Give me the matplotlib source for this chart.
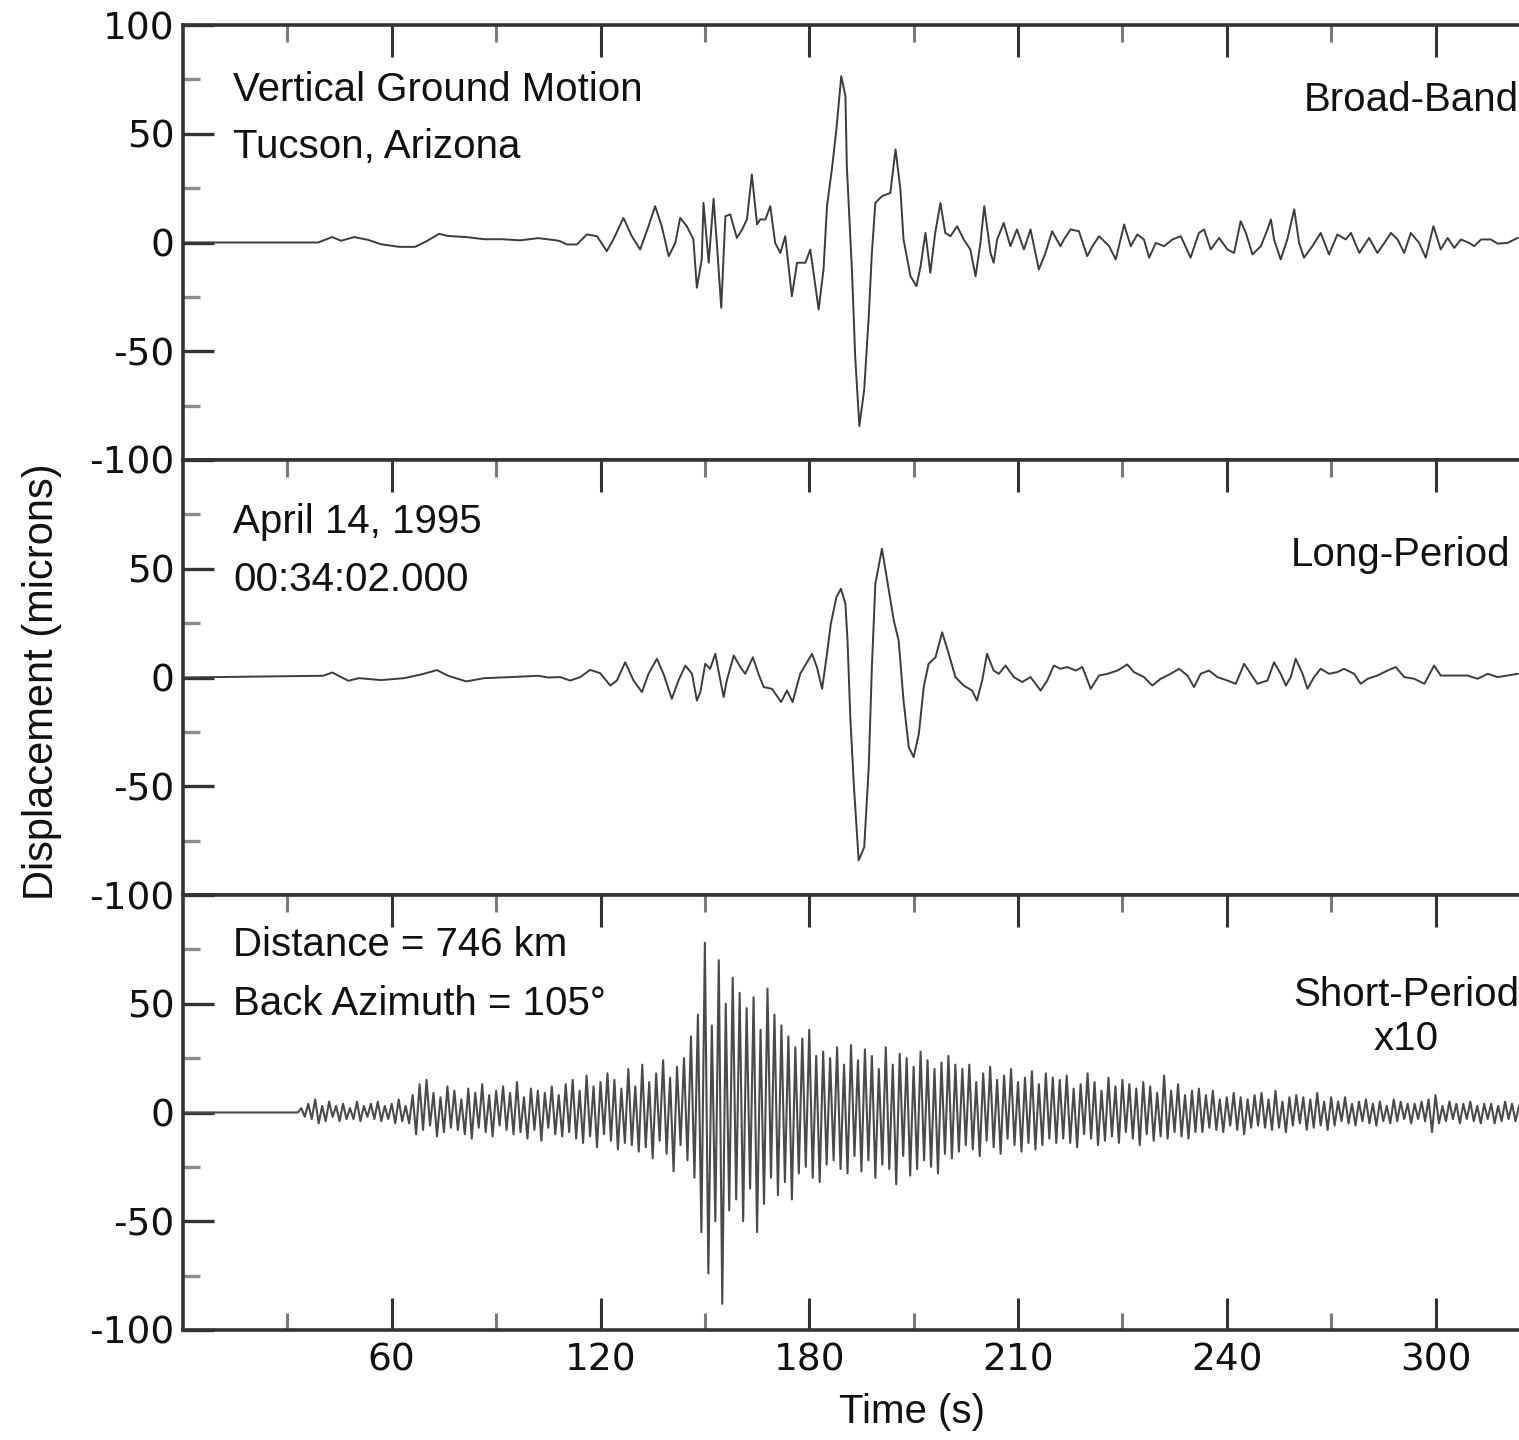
"""
Three-component seismogram (broad-band, long-period, short-period)
recorded at Tucson, Arizona - stacked panels sharing one time axis.
"""

import matplotlib

matplotlib.use("Agg")
import matplotlib.pyplot as plt
import numpy as np

# ---- data (time in s, displacement in microns)
BB_TIME = [
    0, 38.8, 42.9, 45.4, 49.2, 53.2, 56.9, 62.1, 66.7, 69.9, 73.6, 76.2, 81.4, 86.6,
    91.7, 96.9, 102.1, 107.3,
    108.4, 110.3, 113.2, 116.1, 119.0, 121.8, 123.7, 126.6, 129.0, 131.4, 133.8, 135.7,
    137.6, 139.6, 141.5, 142.9, 144.8, 146.7, 147.7, 149.1, 149.6, 151.1, 152.5, 153.5,
    154.7, 155.9, 157.3, 159.2, 160.7, 162.1, 163.5, 165.0, 165.9, 167.4, 168.8, 170.2,
    171.7, 173.1, 175.0, 176.5, 178.9, 180.3, 182.7, 184.1, 185.1, 186.5, 187.8, 189.2,
    190.4, 190.8, 192.3, 193.2, 194.4, 195.8, 197.1, 198.0, 199.0, 200.9, 203.3, 204.8,
    206.2, 207.1, 209.1, 210.8, 212.0, 213.4, 214.8, 216.2, 217.7, 219.1, 220.6, 222.5,
    224.4, 226.3, 227.8, 229.2, 230.3, 232.1, 233.0, 234.0, 235.9, 237.8, 239.7, 241.7,
    243.6, 246.0, 247.9, 249.8, 252.2,
    253.2, 255.1, 257.5, 259.9, 261.4, 263.3, 266.2, 268.1, 270.5, 272.4, 274.3, 276.2,
    277.7, 279.6, 282.0, 284.4, 286.8, 289.6, 292.0, 293.5, 295.4, 297.8, 300.2, 302.1,
    304.0, 305.5, 307.4, 309.8, 311.7, 312.7, 313.6, 315.5, 317.4, 319.4, 320.8, 322.2,
    324.6, 327.0, 329.4, 331.8, 334.2, 335.7, 338.1, 340.9, 343.3, 345.3, 347.2, 349.1,
    351.0, 352.9, 355.3, 357.2, 359.4, 361.5, 363.5, 365.4, 367.3, 369.7, 371.1, 373.1,
    375.9, 377.8, 380.7, 383.6,
]
BB_DISP = [
    0, 0, 2.5, 0.8, 2.5, 1.2, -0.8, -2, -2, 0.5, 4, 3, 2.5, 1.5,
    1.5, 1, 2, 1,
    0.6, -0.9, -0.9, 3.7, 2.9, -4.0, 1.4, 11.3, 2.9, -3.2, 7.5, 16.7,
    7.5, -6.3, -0.2, 11.3, 7.5, 1.4, -20.8, -7.8, 18.2, -9.3, 20.1, -1.7,
    -30.0, 12.1, 12.9, 2.1, 6.0, 10.6, 31.3, 8.3, 10.6, 10.6, 16.7, -0.2,
    -4.8, 2.9, -24.7, -9.3, -9.3, -3.2, -30.8, -12.4, 16.7, 33.6, 52.0, 76.5,
    67.3, 35.1, -13.9, -52.3, -84.4, -67.6, -33.9, -4.8, 18.2, 21.3, 22.8, 42.8,
    24.4, 1.4, -15.5, -20.1, -10.9, 4.4, -13.9, 4.4, 18.2, 4.4, 2.9, 7.5,
    1.4, -3.2, -15.5, -0.2, 16.7, -4.8, -9.3, 1.4, 9.0, -1.7, 6.0, -3.2,
    6.0, -12.4, -4.8, 5.2, -1.7,
    1.4, 6.0, 5.2, -6.3, -1.7, 2.9, -1.7, -7.8, 8.3, -1.7, 3.7, 1.4,
    -7.0, -0.2, -1.7, 1.4, 2.9, -7.0, 4.4, 6.0, -3.2, 2.1, -3.2, -4.8,
    9.8, 4.4, -5.5, -1.7, 6.0, 10.6, 1.4, -7.8, 1.4, 15.2, -0.2, -7.0,
    -1.7, 4.4, -5.5, 3.7, 1.4, 4.4, -4.8, 2.1, -4.8, -0.2, 4.4, 1.4,
    -4.8, 4.4, -0.2, -7.0, 7.5, -3.2, 2.1, -2.5, 1.4, -0.2, -1.7, 1.4,
    1.4, -0.5, -0.2, 2.1,
]

LP_TIME = [
    0, 40.3, 42.9, 47.5, 50.6, 56.9, 63.6, 68.7, 73.0, 76.2, 81.4, 86.6, 95.8, 102.1, 105.0,
    108.4, 111.3, 114.2, 117.0, 119.9, 122.8, 124.7, 127.1, 129.5, 131.9, 133.8, 136.2,
    138.1, 140.5, 142.4, 144.4, 146.3, 147.7, 148.7, 150.1, 151.5, 153.0, 153.9, 155.4,
    156.3, 158.3, 160.2, 161.6, 163.8, 165.4, 166.9, 169.3, 171.9, 173.6, 175.2, 177.4,
    180.8, 182.2, 183.7, 185.1, 186.2, 187.8, 189.1, 190.4, 191.0, 191.8, 192.8, 194.2,
    195.8, 197.1, 198.0, 199.0, 200.9, 202.4, 204.3, 205.7, 207.1, 208.6, 210.0, 211.5,
    212.9, 214.3, 216.3, 218.2, 220.1, 222.0, 224.4, 226.8, 228.2, 229.7, 231.1, 233.0,
    234.5, 236.4, 238.8, 241.2, 243.6, 246.5, 248.4, 250.3, 252.2,
    254.2, 256.6, 258.5, 260.9, 263.3, 265.7, 268.6, 271.4, 273.3, 276.2, 278.6, 281.0,
    283.9, 286.3, 288.7, 290.6, 292.5, 294.9, 297.3, 300.2, 302.6, 305.0, 306.9, 308.8,
    311.7, 313.6, 315.5, 317.0, 318.4, 319.8, 321.8, 323.2, 325.1, 327.0, 329.4, 331.8,
    333.7, 336.6, 338.5, 340.5, 343.3, 346.2, 348.6, 351.0, 353.9, 356.8, 359.6, 361.5,
    365.4, 369.2, 372.1, 375.0, 377.8, 380.7, 383.6,
]
LP_DISP = [
    0, 0.8, 2.3, -1.5, -0.3, -1.2, -0.3, 1.5, 3.4, 0.8, -1.8, -0.3, 0.3, 0.8, 0,
    0.2, -1.4, 0.2, 3.5, 2.0, -3.7, -1.4, 7.0, -1.4, -6.7, 1.7, 8.6,
    1.7, -9.8, -1.4, 5.5, 1.7, -10.6, -6.7, 6.3, 4.0, 10.9, 3.2, -9.0,
    -1.4, 10.1, 4.8, 1.7, 9.3, 1.7, -4.4, -5.2, -11.3, -6.0, -11.3, 1.7,
    10.9, 4.8, -5.2, 10.9, 24.7, 36.9, 40.8, 33.9, 17.0, -18.2, -48.9, -84.1,
    -78.0, -41.2, 4.8, 43.1, 59.2, 44.6, 26.2, 17.0, -10.6, -32.0, -36.6, -25.9,
    -4.4, 6.3, 9.3, 20.8, 10.9, 0.2, -3.7, -6.0, -10.6, -1.4, 10.9, 3.2,
    1.7, 5.5, 0.2, -2.1, 0.2, -6.0, -1.4, 5.5, 4.0,
    4.8, 3.2, 4.8, -5.2, 0.9, 1.7, 3.2, 6.0, 2.5, 0.2, -3.7, -0.6,
    1.7, 4.0, 0.9, -4.4, 1.7, 3.2, 0.2, -1.4, -2.9, 6.3, 1.7, -2.9,
    -1.4, 7.0, 1.7, -3.7, 0.2, 8.6, 1.7, -5.2, 0.2, 4.0, 1.7, 2.5,
    4.0, 1.7, -2.9, -0.6, 0.9, 3.2, 4.8, 0.2, -0.6, -2.9, 5.5, 0.9,
    0.9, 0.9, -0.6, 1.7, 0.2, 0.9, 1.7,
]

# short-period trace (already x10): one swing per second from 34 s onward,
# flat before that
SP_QUIET_END = 33.0
SP_START = 34.0
SP_STEP = 1.0
SP_DISP = [
    2, -2, 4, -3, 6, -5, 3, -4, 5, -2, 3, -4, 4, -3, 2, -3, 5, -4, 3, -2,
    4, -3, 5, -4, 3, -3, 4, -5, 6, -4, 3, -5,
    8, -10, 13, -8, 15, -6, 9, -11, 7, -9, 12, -7, 10, -8, 6, -10, 11, -12, 9, -7,
    13, -9, 8, -11, 10, -6, 12, -8, 9, -10, 14, -9, 7, -12, 11, -8, 10, -13, 9, -7,
    12, -10, 8,
    -11, 13, -9, 15, -12, 10, -14, 17, -11, 12, -16, 14, -10, 18, -13, 15, -17, 11, -14, 20,
    -15, 12, -18, 22, -16, 14, -21, 18, -13, 24, -19, 16, -27, 21, -15, 25, -22,
    35, -30, 45, -55, 78, -74, 40, -50, 70, -88, 50, -45, 62, -40, 55, -50, 48, -35, 53, -55,
    38, -42, 57, -30, 45, -38, 40, -32, 35, -40, 30, -28, 34, -25, 38, -30, 26, -32, 28, -24,
    25, -22, 30, -26, 22, -28, 31, -20, 24, -27, 29, -22, 26, -30, 20, -24, 30, -26, 22, -33,
    27, -20, 25, -29, 21, -26, 28, -22, 24, -25, 20, -28, 23, -19, 26, -21, 22,
    -18, 20, -15, 22, -17, 14, -20, 18, -13, 21, -16, 15, -19, 17, -12, 20, -15, 14, -18, 16,
    -14, 19, -17, 13, -15, 18, -12, 16, -14,
    15, -12, 17, -14, 11, -16, 13, -10, 18, -12, 14, -15, 10, -13, 16, -11, 12, -14, 15, -9,
    13, -12, 11, -15, 14, -10, 12, -13, 9, -11, 17, -12, 10, -9, 13, -11, 8, -12, 10, -9, 11,
    -9, 8, -7, 10, -8, 6, -9, 7, -6, 9, -8, 7, -10, 6, -7, 8, -6, 9, -7, 6,
    -8, 10, -7, 5, -9, 7, -6, 8, -5, 7, -8, 6, -7, 9, -6, 5, -8, 7,
    -6, 5, -4, 7, -5, 4, -6, 5, -4, 6, -5, 4, -6, 5, -4, 3, -5, 6, -4, 5,
    -3, 4, -5, 4, -3, 5, -4, 6, -9, 8, -5, 3, -4, 5, -3, 4, -5, 4, -3, 5,
    -4, 3, -5, 4, -3, 4, -5, 3, -4, 5, -3, 4, -4, 3,
]

X_MAX = 384
X_TICKS = [60, 120, 180, 240, 300, 360]
X_TICK_LABELS = ["60", "120", "180", "210", "240", "300"]
X_MINOR = [30, 90, 150, 210, 270, 330]
Y_TICKS = [-100, -50, 0, 50, 100]
Y_MINOR = [-75, -25, 25, 75]

LEFT_NOTES = [
    ("Vertical Ground Motion", "Tucson, Arizona"),
    ("April 14, 1995", "00:34:02.000"),
    ("Distance = 746 km", "Back Azimuth = 105\u00b0"),
]
RIGHT_NOTES = ["Broad-Band", "Long-Period", "Short-Period\nx10"]

INK = "#333333"
TRACE = "#3c3c3c"
TEXT = "#111111"
TEXT_FONT = ["Liberation Sans", "DejaVu Sans"]
FS = 29

W, H = 1519, 1440
fig = plt.figure(figsize=(W / 100, H / 100), dpi=100)

left = 183 / W
width = 1 - left
panel_h = 435 / H
tops = [25, 460, 895]

sp_time = [0.0, SP_QUIET_END] + list(SP_START + SP_STEP * np.arange(len(SP_DISP)))
sp_disp = [0.0, 0.0] + SP_DISP
series = [(BB_TIME, BB_DISP, 1.4, TRACE), (LP_TIME, LP_DISP, 1.4, TRACE),
          (sp_time, sp_disp, 1.5, "#4a4a4a")]

axes = []
for i, top in enumerate(tops):
    ax = fig.add_axes([left, 1 - (top + 435) / H, width, panel_h])
    t, d, lw, col = series[i]
    ax.plot(t, d, color=col, lw=lw)
    ax.set_xlim(0, X_MAX)
    ax.set_ylim(-100, 100)

    ax.spines["right"].set_visible(False)
    for s in ("left", "top", "bottom"):
        ax.spines[s].set_linewidth(2.6)
        ax.spines[s].set_color(INK)

    ax.set_yticks(Y_TICKS)
    ax.set_yticks(Y_MINOR, minor=True)
    ylabels = ["-100", "-50", "0", "50", "100" if i == 0 else ""]
    ax.set_yticklabels(ylabels, fontsize=27, family="DejaVu Sans")
    ax.set_xticks(X_TICKS)
    ax.set_xticks(X_MINOR, minor=True)
    if i == 2:
        ax.set_xticklabels(X_TICK_LABELS, fontsize=27, family="DejaVu Sans")
    else:
        ax.set_xticklabels([])

    ax.tick_params(axis="y", which="major", direction="in", length=22, width=2.4,
                   color=INK, pad=6, labelcolor=TEXT)
    ax.tick_params(axis="y", which="minor", direction="in", length=12, width=2.4,
                   color="#8c8c8c")
    ax.tick_params(axis="x", which="major", direction="in", length=23, width=2.2,
                   color=INK, top=True, bottom=(i == 2), pad=9, labelcolor=TEXT)
    ax.tick_params(axis="x", which="minor", direction="in", length=12, width=2.2,
                   color="#7a7a7a", top=True, bottom=(i == 2))

    l1, l2 = LEFT_NOTES[i]
    y1 = [70.3, 71.3, 76.8][i]
    y2 = [44.1, 44.6, 50.1][i]
    ax.text(14.4, y1, l1, fontsize=FS, family=TEXT_FONT, va="center", ha="left", color=TEXT)
    ax.text(14.4, y2, l2, fontsize=FS, family=TEXT_FONT, va="center", ha="left", color=TEXT)
    axes.append(ax)

axes[0].text(X_MAX, 65.7, RIGHT_NOTES[0], fontsize=FS, family=TEXT_FONT,
             ha="right", va="center", color=TEXT)
axes[1].text(381.6, 56.1, RIGHT_NOTES[1], fontsize=FS, family=TEXT_FONT,
             ha="right", va="center", color=TEXT)
axes[2].text(X_MAX, 44.0, RIGHT_NOTES[2], fontsize=FS, family=TEXT_FONT,
             ha="right", va="center", color=TEXT, multialignment="center",
             linespacing=1.2)

fig.text(42 / W, 1 - 682 / H, "Displacement (microns)", rotation=90, fontsize=30,
         family=TEXT_FONT, ha="center", va="center", color=TEXT)
fig.text(912 / W, 1 - 1412 / H, "Time (s)", fontsize=29, family=TEXT_FONT,
         ha="center", va="center", color=TEXT)

fig.savefig("out.png", dpi=100)
